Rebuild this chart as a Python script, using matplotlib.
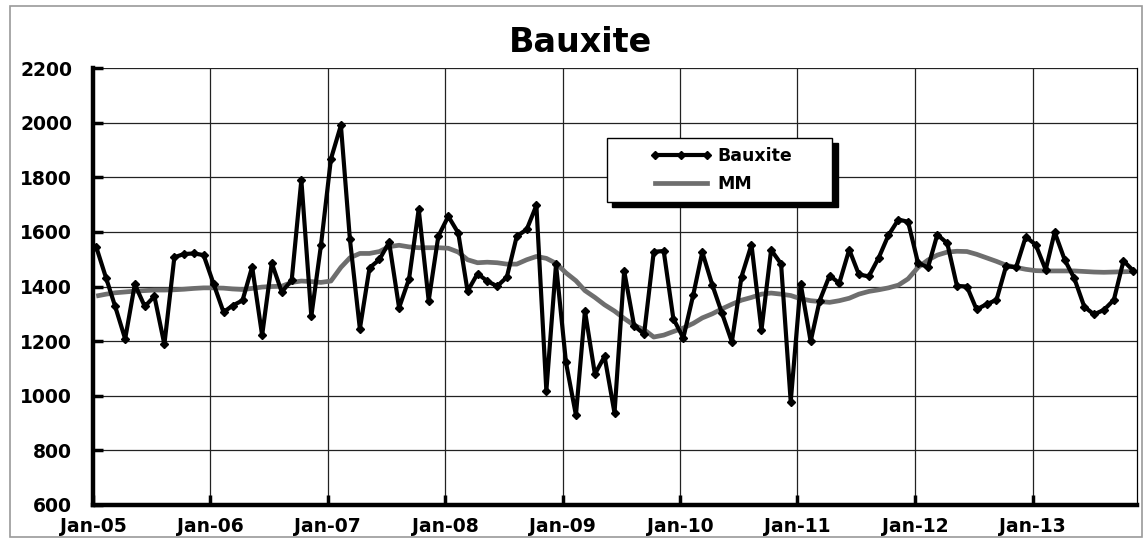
import numpy as np
import pandas as pd
import matplotlib
matplotlib.use("Agg")
import matplotlib.pyplot as plt
import matplotlib.dates as mdates
from matplotlib.lines import Line2D
from matplotlib.legend_handler import HandlerLine2D
from matplotlib.patches import Rectangle

# monthly values, Jan-05 .. Nov-13
bauxite = [
    1545, 1430, 1327, 1208, 1408, 1327, 1364, 1188, 1507, 1519, 1521, 1515,  # 2005
    1410, 1306, 1330, 1349, 1472, 1221, 1486, 1380, 1423, 1790, 1291, 1551,  # 2006
    1867, 1990, 1573, 1245, 1468, 1499, 1562, 1322, 1428, 1683, 1348, 1584,  # 2007
    1657, 1596, 1383, 1447, 1420, 1401, 1434, 1584, 1609, 1697, 1018, 1481,  # 2008
    1122, 929, 1311, 1079, 1144, 937, 1457, 1256, 1226, 1527, 1530, 1282,    # 2009
    1212, 1370, 1526, 1406, 1303, 1197, 1436, 1553, 1240, 1534, 1483, 978,   # 2010
    1410, 1199, 1348, 1440, 1412, 1535, 1444, 1437, 1506, 1588, 1645, 1637,  # 2011
    1486, 1470, 1590, 1558, 1402, 1400, 1316, 1335, 1351, 1475, 1470, 1582,  # 2012
    1553, 1461, 1599, 1498, 1430, 1326, 1298, 1314, 1351, 1494, 1457,        # 2013
]
mm = [
    1365, 1372, 1377, 1380, 1383, 1385, 1387, 1387, 1388, 1390, 1393, 1395,
    1395, 1394, 1391, 1389, 1393, 1398, 1400, 1401, 1415, 1420, 1418, 1415,
    1420, 1470, 1505, 1521, 1521, 1528, 1546, 1551, 1545, 1542, 1542, 1542,
    1540, 1526, 1498, 1487, 1489, 1487, 1482, 1482, 1498, 1510, 1503, 1485,
    1450, 1421, 1385, 1360, 1333, 1310, 1283, 1258, 1242, 1215, 1222, 1235,
    1248, 1265, 1285, 1300, 1318, 1335, 1350, 1360, 1372, 1376, 1372, 1367,
    1355, 1348, 1345, 1342, 1348, 1357, 1372, 1382, 1388, 1395, 1405, 1428,
    1470, 1497, 1515, 1526, 1529, 1528, 1518, 1505, 1492, 1478, 1470, 1463,
    1458, 1457, 1457, 1457, 1457, 1455, 1453, 1452, 1453, 1454, 1455,
]
dates = pd.date_range("2005-01-01", periods=len(bauxite), freq="MS") + pd.Timedelta(days=10)
year_ticks = pd.date_range("2005-01-01", "2013-01-01", freq="YS")
y_ticks = list(range(600, 2201, 200))

bold = dict(family="DejaVu Sans", weight="bold")

fig = plt.figure(figsize=(11.48, 5.39), dpi=100)
ax = fig.add_axes([93 / 1148, 1 - 505 / 539, (1137 - 93) / 1148, (505 - 68) / 539])

ax.plot(dates, mm, color="#6e6e6e", lw=3.4, solid_capstyle="butt", zorder=3)
ax.plot(dates, bauxite, color="black", lw=3.0, marker="D", ms=4.5, zorder=4)

ax.set_ylim(600, 2200)
ax.set_yticks(y_ticks)
ax.set_xlim(pd.Timestamp("2005-01-01"), pd.Timestamp("2013-11-22"))
ax.set_xticks(year_ticks)
ax.xaxis.set_major_formatter(mdates.DateFormatter("%b-%y"))

ax.grid(True, color="#222222", lw=0.9)
ax.set_axisbelow(True)
for side in ("left", "bottom"):
    ax.spines[side].set_linewidth(3.2)
ax.spines["top"].set_visible(False)
ax.spines["right"].set_linewidth(0.9)
ax.tick_params(direction="in", length=7, width=2.5)
ax.tick_params(axis="x", pad=9)
ax.tick_params(axis="y", pad=15)
for lab in ax.get_yticklabels():
    lab.set_fontfamily("DejaVu Sans")
    lab.set_fontweight("bold")
    lab.set_fontsize(13.5)
for lab in ax.get_xticklabels():
    lab.set_fontfamily("DejaVu Sans")
    lab.set_fontweight("bold")
    lab.set_fontsize(13.5)

fig.text(580 / 1148, 1 - 43 / 539, "Bauxite", ha="center", va="center", fontsize=24, **bold)

handles = [Line2D([], [], color="black", lw=3.0, marker="D", ms=4.5, markevery=[1]),
           Line2D([], [], color="#6e6e6e", lw=3.4)]
leg = ax.legend(handles, ["Bauxite", "MM"], loc="upper left",
                bbox_to_anchor=(0.492, 0.698, 0.216, 0.142), mode="expand",
                borderaxespad=0, fancybox=False, edgecolor="black",
                shadow={"color": "black", "alpha": 1.0, "ox": 4, "oy": -4},
                prop=dict(family="DejaVu Sans", weight="bold", size=12.5),
                handlelength=5.6, handletextpad=0.3, labelspacing=0.6, borderpad=0.5,
                handler_map={h: HandlerLine2D(xpad=2.0, numpoints=3) for h in handles})
leg.get_frame().set_linewidth(1.0)

fig.patches.append(Rectangle((10 / 1148, 2 / 539), 1132 / 1148, 531 / 539, transform=fig.transFigure,
                             fill=False, edgecolor="#9a9a9a", lw=1.2))

fig.savefig("out.png", dpi=100)
